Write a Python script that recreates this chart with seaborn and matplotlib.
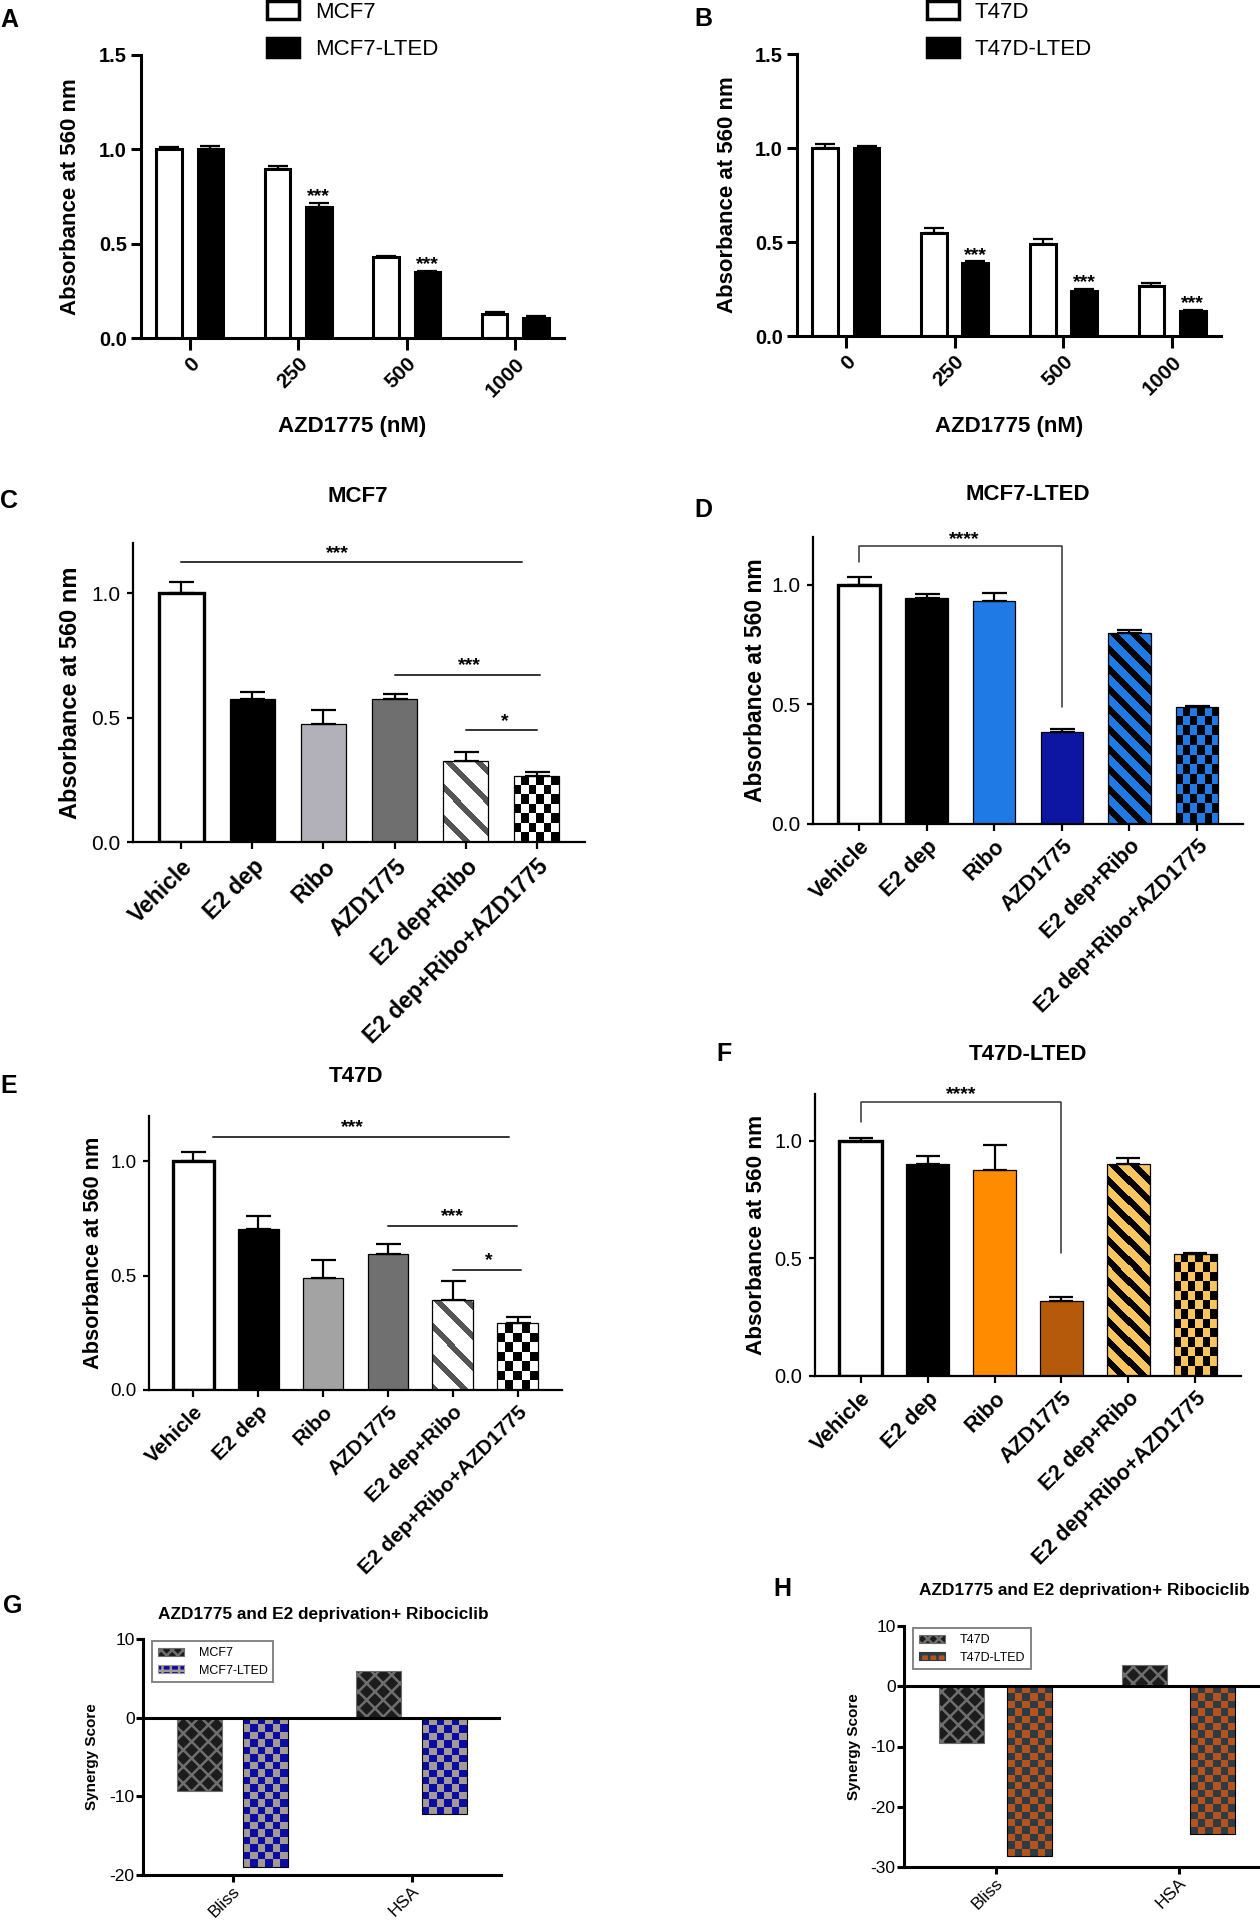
import numpy as np
import pandas as pd
import matplotlib
matplotlib.use('Agg')
import matplotlib.pyplot as plt
from matplotlib.colors import ListedColormap
from matplotlib.patches import Patch
import seaborn as sns


# A / B: dose response to AZD1775
doses = ['0', '250', '500', '1000']
mcf7 = [1.00, 0.894, 0.428, 0.129]
mcf7_err = [0.014, 0.018, 0.006, 0.007]
mcf7_lted = [1.00, 0.694, 0.350, 0.106]
mcf7_lted_err = [0.018, 0.021, 0.007, 0.008]
stars_a = ['', '***', '***', '']

t47d = [1.00, 0.548, 0.491, 0.268]
t47d_err = [0.021, 0.025, 0.025, 0.016]
t47d_lted = [1.00, 0.388, 0.241, 0.132]
t47d_lted_err = [0.009, 0.009, 0.009, 0.005]
stars_b = ['', '***', '***', '***']

# C - F: combination treatments
treatments = ['Vehicle', 'E2 dep', 'Ribo', 'AZD1775', 'E2 dep+Ribo', 'E2 dep+Ribo+AZD1775']
c_vals = [1.00, 0.575, 0.476, 0.575, 0.326, 0.268]
c_err = [0.047, 0.030, 0.056, 0.019, 0.036, 0.014]
d_vals = [1.00, 0.943, 0.930, 0.383, 0.798, 0.486]
d_err = [0.031, 0.020, 0.036, 0.012, 0.011, 0.007]
e_vals = [1.00, 0.705, 0.488, 0.594, 0.395, 0.292]
e_err = [0.042, 0.054, 0.082, 0.044, 0.082, 0.027]
f_vals = [1.00, 0.900, 0.876, 0.318, 0.900, 0.515]
f_err = [0.012, 0.036, 0.104, 0.015, 0.024, 0.005]

# significance: (from, to, line height, stars, star x)
sig_c = [(0, 4.8, 1.124, '***', 2.2), (3, 5.05, 0.674, '***', 4.05), (4, 5, 0.45, '*', 4.55)]
sig_e = [(0.3, 4.86, 1.108, '***', 2.45), (3, 4.98, 0.718, '***', 4.0), (4, 5.05, 0.526, '*', 4.55)]
# bracket: (from, to, left foot, top, right foot, stars, star x)
bracket_d = (0, 3, 1.094, 1.161, 0.49, '****', 1.55)
bracket_f = (0, 3, 1.077, 1.164, 0.52, '****', 1.5)

# G / H: synergy scores
methods = ['Bliss', 'HSA']
g_mcf7 = [-9.3, 5.9]
g_mcf7_lted = [-19.0, -12.2]
h_t47d = [-9.5, 3.6]
h_t47d_lted = [-28.1, -24.5]


sns.set_theme(style='ticks')
plt.rcParams['font.family'] = ['Liberation Sans', 'DejaVu Sans']
plt.rcParams['axes.unicode_minus'] = False
plt.rcParams['hatch.linewidth'] = 1.8
for k in ['axes.edgecolor', 'xtick.color', 'ytick.color', 'text.color', 'axes.labelcolor']:
    plt.rcParams[k] = 'black'

W, H = 1260, 1920
fig = plt.figure(figsize=(W / 100, H / 100), dpi=100)


def add_ax(l, r, t, b):
    return fig.add_axes([l / W, 1 - b / H, (r - l) / W, (b - t) / H])


def px(x, y):
    return x / W, 1 - y / H


def style(ax, lw, xlen, ylen):
    sns.despine(ax=ax)
    for s in ('left', 'bottom'):
        ax.spines[s].set_linewidth(lw)
    ax.tick_params(axis='x', length=xlen, width=lw)
    ax.tick_params(axis='y', length=ylen, width=lw)


def bars_of(ax):
    return sorted(ax.patches, key=lambda p: p.get_x())


def fill_image(ax, p, grid, c1, c2):
    # paint a texture inside bar p (clipped to it), keeping the bar outline on top
    x0, x1 = p.get_x(), p.get_x() + p.get_width()
    y0, y1 = sorted([p.get_y(), p.get_y() + p.get_height()])
    im = ax.imshow(grid, cmap=ListedColormap([c1, c2]), vmin=0, vmax=1,
                   extent=(x0, x1, y0, y1), aspect='auto', interpolation='nearest',
                   zorder=p.get_zorder() - 0.01)
    im.set_clip_path(p)
    p.set_facecolor('none')


def checker(ax, p, c1, c2, cw, ch):
    ext = p.get_window_extent()
    ncol = max(1, int(round(ext.width / cw)))
    nrow = max(1, int(round(ext.height / ch)))
    fill_image(ax, p, np.add.outer(np.arange(nrow), np.arange(ncol)) % 2, c1, c2)


def stripes(ax, p, bg, fg, period, thick):
    ext = p.get_window_extent()
    rows, cols = np.indices((max(1, int(round(ext.height))), max(1, int(round(ext.width)))))
    fill_image(ax, p, ((cols - rows) % period < thick).astype(int), bg, fg)


def star(ax, x, y, text, size, lift_px):
    # lift_px: distance from y to the centre of the asterisks
    off = (lift_px - 0.58 * size * 100 / 72) * 0.72
    ax.annotate(text, (x, y), xytext=(0, off), textcoords='offset points',
                ha='center', va='baseline', fontsize=size, fontweight='bold',
                annotation_clip=False)


def set_ylabel(ax, box, text, size, right_px):
    l, r, t, b = box
    ax.set_ylabel(text, fontsize=size, fontweight='bold')
    ax.yaxis.set_label_coords((right_px + 4 - l) / (r - l), 0.5)


def letter(x, y, s):
    fig.text(*px(x, y), s, fontsize=18, fontweight='bold', ha='left', va='center')


# ---------- A and B ----------
def dose_panel(box, a, a_err, b, b_err, stars, names, legend_x, ylab_right):
    l, r, t, bt = box
    ax = add_ax(*box)
    df = pd.DataFrame({'dose': doses * 2, 'value': a + b,
                       'line': [names[0]] * 4 + [names[1]] * 4})
    sns.barplot(data=df, x='dose', y='value', hue='line', order=doses, hue_order=names,
                palette=['white', 'black'], saturation=1, width=0.76, gap=0.38,
                edgecolor='black', linewidth=2.2, errorbar=None, legend=False, ax=ax)
    ax.set_xlim(-0.45, 3.45)
    ax.set_ylim(0, 1.5)
    bars = bars_of(ax)
    for grp, err in ((bars[0::2], a_err), (bars[1::2], b_err)):
        xs = [p.get_x() + p.get_width() / 2 for p in grp]
        ys = [p.get_height() for p in grp]
        ax.errorbar(xs, ys, yerr=[np.zeros(len(err)), err], fmt='none', ecolor='black',
                    elinewidth=1.6, capsize=7, capthick=1.6, zorder=3)
    for p, e, s in zip(bars[1::2], b_err, stars):
        if s:
            star(ax, p.get_x() + p.get_width() / 2, p.get_height() + e, s, 14, 13)
    style(ax, 2.2, 8.5, 7)
    ax.tick_params(axis='x', pad=3)
    ax.tick_params(axis='y', pad=3)
    ax.set_yticks([0, 0.5, 1.0, 1.5])
    ax.set_yticklabels(['0.0', '0.5', '1.0', '1.5'], fontsize=14.5, fontweight='bold')
    ax.set_xticks(range(4))
    ax.set_xticklabels(doses, rotation=45, ha='right', rotation_mode='anchor',
                       fontsize=15, fontweight='bold')
    set_ylabel(ax, box, 'Absorbance at 560 nm', 16, ylab_right)
    ax.set_xlabel('AZD1775 (nM)', fontsize=16, fontweight='bold')
    ax.xaxis.set_label_coords(0.5, (bt - 416) / (bt - t))
    handles = [Patch(facecolor='white', edgecolor='black', linewidth=2.5),
               Patch(facecolor='black', edgecolor='black', linewidth=2.5)]
    ax.legend(handles, names, loc='upper left', bbox_to_anchor=px(legend_x, 1),
              bbox_transform=fig.transFigure, frameon=False, fontsize=16,
              handlelength=1.45, handleheight=0.9, handletextpad=0.7,
              labelspacing=0.7, borderpad=0, borderaxespad=0)
    return ax


dose_panel((141, 564, 55, 338), mcf7, mcf7_err, mcf7_lted, mcf7_lted_err, stars_a,
           ['MCF7', 'MCF7-LTED'], 267, 77)
dose_panel((797, 1221, 54, 336), t47d, t47d_err, t47d_lted, t47d_lted_err, stars_b,
           ['T47D', 'T47D-LTED'], 927, 734)
letter(0, 20, 'A')
letter(694, 19, 'B')


# ---------- C to F ----------
def treatment_panel(box, vals, errs, colors, stripe, check_cols, title, title_xy,
                    fs, ylab_right, cap):
    ax = add_ax(*box)
    df = pd.DataFrame({'treatment': treatments, 'value': vals})
    sns.barplot(data=df, x='treatment', y='value', hue='treatment', order=treatments,
                palette=dict(zip(treatments, colors)), saturation=1, width=0.63,
                edgecolor='black', linewidth=0.9, errorbar=None, legend=False, ax=ax)
    ax.set_xlim(-0.68, 5.68)
    ax.set_ylim(0, 1.2)
    bars = bars_of(ax)
    bars[0].set_linewidth(2.4)
    stripes(ax, bars[4], colors[4], stripe[0], stripe[1], stripe[2])
    checker(ax, bars[5], check_cols[0], check_cols[1], 7.5, 9.5)
    xs = [p.get_x() + p.get_width() / 2 for p in bars]
    ax.errorbar(xs, vals, yerr=[np.zeros(len(errs)), errs], fmt='none', ecolor='black',
                elinewidth=1.6, capsize=cap, capthick=1.6, zorder=4)
    style(ax, 1.6, 5, 4)
    ax.set_yticks([0, 0.5, 1.0])
    ax.set_yticklabels(['0.0', '0.5', '1.0'], fontsize=fs[2])
    ax.tick_params(axis='y', pad=5)
    ax.tick_params(axis='x', pad=4)
    ax.set_xticks(range(len(treatments)))
    ax.set_xticklabels(treatments, rotation=45, ha='right', rotation_mode='anchor',
                       fontsize=fs[0], fontweight='bold')
    ax.set_xlabel('')
    set_ylabel(ax, box, 'Absorbance at 560 nm', fs[1], ylab_right)
    fig.text(*px(*title_xy), title, fontsize=16, fontweight='bold', ha='center', va='center')
    return ax


gray_stripe = ('#555555', 30, 8)
black_stripe = ('black', 20, 9)
ax_c = treatment_panel((133, 585, 543.5, 842.5), c_vals, c_err,
                       ['white', 'black', '#b2b1b9', '#6f6f6f', 'white', 'white'],
                       gray_stripe, ('white', 'black'), 'MCF7', (358, 496),
                       (16.5, 17, 15), 78, 9)
ax_d = treatment_panel((813, 1243, 537, 823.5), d_vals, d_err,
                       ['white', 'black', '#1f7ae6', '#0c16a3', '#1f7ae6', '#1f7ae6'],
                       black_stripe, ('#1f7ae6', 'black'), 'MCF7-LTED', (1028, 494),
                       (15.5, 16.5, 15), 763, 9)
ax_e = treatment_panel((149, 562, 1115.5, 1390), e_vals, e_err,
                       ['white', 'black', '#a3a3a3', '#707070', 'white', 'white'],
                       gray_stripe, ('white', 'black'), 'T47D', (356, 1076),
                       (15, 15.7, 13.5), 100, 9)
ax_f = treatment_panel((815, 1241, 1093.5, 1375.5), f_vals, f_err,
                       ['white', 'black', '#ff8c00', '#b55a0b', '#fcc45c', '#fcc45c'],
                       black_stripe, ('#fcc45c', 'black'), 'T47D-LTED', (1028, 1054),
                       (15.5, 16.2, 14.5), 763, 8.5)

for ax, sig in ((ax_c, sig_c), (ax_e, sig_e)):
    for x0, x1, y, s, sx in sig:
        ax.plot([x0, x1], [y, y], color='#333333', lw=1.4, clip_on=False)
        star(ax, sx, y, s, 14, 16)

for ax, (x0, x1, yl, yt, yr, s, sx) in ((ax_d, bracket_d), (ax_f, bracket_f)):
    ax.plot([x0, x0, x1, x1], [yl, yt, yt, yr], color='#333333', lw=1.1, clip_on=False)
    star(ax, sx, yt, s, 14, 14)

letter(0, 501, 'C')
letter(694, 510, 'D')
letter(0, 1086, 'E')
letter(716, 1054, 'F')


# ---------- G and H ----------
def synergy_panel(box, a, b, names, check_cols, ylim, yticks, title_xy, ylab_right):
    ax = add_ax(*box)
    df = pd.DataFrame({'method': methods * 2, 'score': a + b,
                       'line': [names[0]] * 2 + [names[1]] * 2})
    sns.barplot(data=df, x='method', y='score', hue='line', order=methods, hue_order=names,
                palette=['#1c1c1c', check_cols[0]], saturation=1, width=0.74, gap=0.33,
                edgecolor='black', linewidth=0.8, errorbar=None, legend=False, ax=ax)
    ax.set_xlim(-0.5, 1.5)
    ax.set_ylim(*ylim)
    bars = bars_of(ax)
    for p in bars[0::2]:
        p.set_hatch('xx')
        p.set_edgecolor('#6e6e6e')
    for p in bars[1::2]:
        checker(ax, p, check_cols[0], check_cols[1], 7.5, 7.5)
    ax.axhline(0, color='black', lw=2.2, zorder=5)
    style(ax, 2.2, 5, 5)
    ax.set_yticks(yticks)
    ax.set_yticklabels([str(v) for v in yticks], fontsize=12.5)
    ax.tick_params(axis='y', pad=1)
    ax.tick_params(axis='x', pad=1)
    ax.set_xticks(range(2))
    ax.set_xticklabels(methods, rotation=45, ha='right', rotation_mode='anchor', fontsize=12.5)
    ax.set_xlabel('')
    set_ylabel(ax, box, 'Synergy Score', 11, ylab_right)
    handles = [Patch(facecolor='#1c1c1c', edgecolor='#6e6e6e', hatch='xxx', linewidth=0.8),
               Patch(facecolor=check_cols[0], edgecolor=check_cols[1], hatch='++', linewidth=0.8)]
    leg = ax.legend(handles, names, loc='upper left', bbox_to_anchor=(0.025, 0.99),
                    frameon=True, fancybox=False, fontsize=9, handlelength=2.1,
                    handleheight=0.6, handletextpad=1.2, labelspacing=0.45,
                    borderpad=0.45, borderaxespad=0)
    leg.get_frame().set_edgecolor('#666666')
    leg.get_frame().set_linewidth(1.4)
    fig.text(*px(*title_xy), 'AZD1775 and E2 deprivation+ Ribociclib', fontsize=12.4,
             fontweight='bold', ha='center', va='center')
    return ax


synergy_panel((143, 501, 1639, 1875), g_mcf7, g_mcf7_lted, ['MCF7', 'MCF7-LTED'],
              ('#0b0ba5', '#a39a92'), (-20, 10), [10, 0, -10, -20], (323, 1615), 95)
synergy_panel((904, 1270, 1626, 1867), h_t47d, h_t47d_lted, ['T47D', 'T47D-LTED'],
              ('#b4531c', '#2d3b45'), (-30, 10), [10, 0, -10, -20, -30], (1084, 1590), 857)
letter(3, 1606, 'G')
letter(773, 1589, 'H')

fig.savefig('out.png', dpi=100, facecolor='white')
